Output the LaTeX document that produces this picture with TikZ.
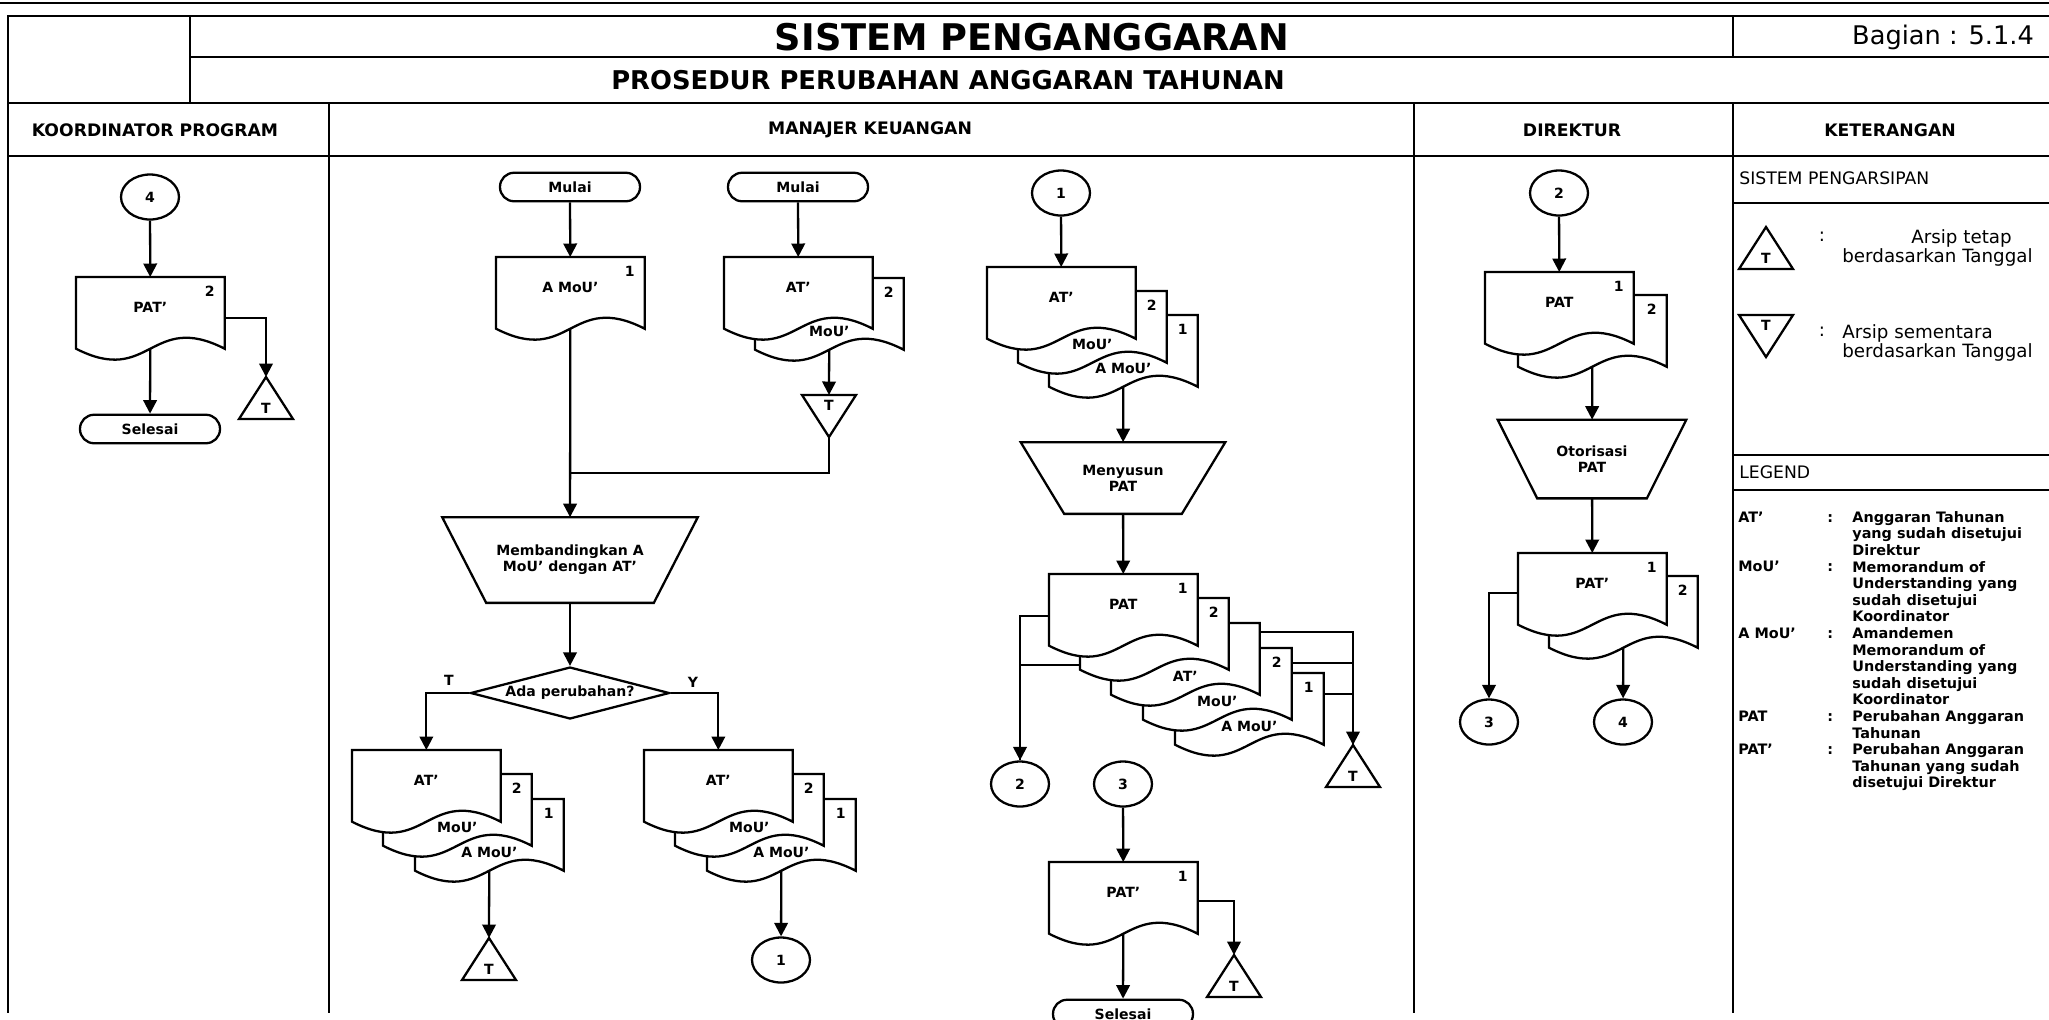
\documentclass[tikz,border=0pt]{standalone}
\usepackage{fontspec}
\setmainfont{DejaVu Sans}
\usetikzlibrary{arrows.meta,shapes.geometric,calc}

\tikzset{
  garis/.style={line width=1.3pt},
  panah/.style={garis, -{Triangle[length=2.7mm,width=2.7mm]}},
  teks/.style={font=\bfseries\fontsize{8}{9}\selectfont, inner sep=0pt, align=center},
  terminal/.style={teks, draw, garis, rounded corners=2.8mm, minimum width=2.8cm, minimum height=0.57cm},
  konektor/.style={teks, draw, garis, ellipse, minimum width=1.16cm, minimum height=0.9cm},
  keputusan/.style={teks, draw, garis, diamond, aspect=3.8, minimum width=3.98cm, minimum height=1.04cm},
  dokbox/.style={inner sep=0pt, minimum width=2.96cm, minimum height=1.42cm, anchor=north west},
  bingkai/.style={line width=1pt},
  sekat/.style={line width=0.8pt},
  kepala/.style={font=\bfseries\fontsize{9.8}{11}\selectfont, inner sep=0pt},
  ket/.style={font=\fontsize{10.4}{10.8}\selectfont, inner sep=0pt, align=left},
  leg/.style={font=\bfseries\fontsize{8.2}{9.45}\selectfont, inner sep=0pt},
}

% dokumen: nama, pojok kiri atas, teks, turun teks, nomor
\newcommand{\dok}[5]{%
  \node[dokbox] (#1) at (#2) {};
  \filldraw[garis, fill=white] (#1.north west) -- (#1.north east) -- (#1.south east)
    .. controls ([yshift=0.76cm]#1.south) and ([yshift=-0.76cm]#1.south) .. (#1.south west) -- cycle;
  \node[teks] (#1-l) at ([yshift=-#4]#1.north) {#3};
  \node[teks] (#1-n) at ([xshift=-0.3cm,yshift=-0.28cm]#1.north east) {#5};
}
% proses manual: opsi, nama, posisi, inset, teks
\newcommand{\proses}[5][]{%
  \node[teks, #1] (#2) at (#3) {#5};
  \draw[garis] (#2.north west) -- (#2.north east) -- ([xshift=-#4]#2.south east)
    -- ([xshift=#4]#2.south west) -- cycle;
}
% arsip tetap (puncak di atas)
\newcommand{\arsipT}[2]{%
  \coordinate (#1) at (#2);
  \draw[garis, fill=white] (#1) -- ++(-27,42) -- ++(54,0) -- cycle;
  \node[teks] (#1-t) at ([yshift=-0.62cm]#1) {T};
}
% arsip sementara (puncak di bawah)
\newcommand{\arsipS}[2]{%
  \coordinate (#1) at (#2);
  \draw[garis, fill=white] ([xshift=-0.54cm]#1) -- ++(54,0) -- ++(-27,42) -- cycle;
  \coordinate (#1-b) at ([yshift=-0.84cm]#1);
  \node[teks] (#1-t) at ([yshift=-0.2cm]#1) {T};
}

\begin{document}
\begin{tikzpicture}[x=0.02cm, y=-0.02cm]
\useasboundingbox (0,0) rectangle (2049,1019);

% bingkai
\draw[line width=1.5pt] (0,3) -- (2049,3);
\draw[bingkai] (2049,16) -- (8,16) -- (8,1013);
\draw[bingkai] (190,16) -- (190,103);
\draw[bingkai] (1733,16) -- (1733,57);
\draw[bingkai] (190,57) -- (2049,57);
\draw[bingkai] (8,103) -- (2049,103);
\draw[bingkai] (8,156) -- (2049,156);
\foreach \x in {329,1414,1733} \draw[sekat] (\x,103) -- (\x,1013);
\foreach \y in {203,455,490} \draw[sekat] (1733,\y) -- (2049,\y);

% judul
\node[font=\bfseries\fontsize{20.9}{24}\selectfont, inner sep=0pt] (judul) at (1032,37) {SISTEM PENGANGGARAN};
\node[font=\fontsize{14.6}{16}\selectfont, inner sep=0pt] (bagian) at (1943,37) {Bagian : 5.1.4};
\node[font=\bfseries\fontsize{14.7}{16}\selectfont, inner sep=0pt] (prosedur) at (948,80) {PROSEDUR PERUBAHAN ANGGARAN TAHUNAN};
\node[kepala] (hkoor) at (155,130) {KOORDINATOR PROGRAM};
\node[kepala] (hman) at (870,130) {MANAJER KEUANGAN};
\node[kepala] (hdir) at (1572,130) {DIREKTUR};
\node[kepala] (hket) at (1890,130) {KETERANGAN};

% koordinator program
\node[konektor] (k4) at (150,197) {4};
\dok{kpat}{76,277}{PAT'}{0.6cm}{2}
\arsipT{kt}{266,377}
\node[terminal] (kselesai) at (150,429) {Selesai};
\draw[panah] (k4) -- (kpat);
\draw[panah] (kpat) -- (kselesai);
\draw[panah] ([yshift=-0.82cm]kpat.north east) -| (kt);

% manajer keuangan
\node[terminal] (mulai1) at (570,187) {Mulai};
\node[terminal] (mulai2) at (798,187) {Mulai};
\dok{amou}{496,257}{A MoU'}{0.6cm}{1}
\dok{mat2}{755,278}{MoU'}{1.06cm}{2}
\dok{mat1}{724,257}{AT'}{0.6cm}{}
\arsipS{ms}{829,395}
\coordinate (gabung) at (570,473);
\proses[minimum width=5.1cm, minimum height=1.7cm]{banding}{570,560}{0.88cm}{Membandingkan A\\MoU' dengan AT'}
\node[keputusan] (ada) at (570,693) {Ada perubahan?};
\node[teks] (lblT) at (449,680) {T};
\node[teks] (lblY) at (693,682) {Y};
\dok{kr3}{415,799}{A MoU'}{1.06cm}{1}
\dok{kr2}{383,774}{MoU'}{1.06cm}{2}
\dok{kr1}{352,750}{AT'}{0.6cm}{}
\arsipT{krt}{489,938}
\dok{kn3}{707,799}{A MoU'}{1.06cm}{1}
\dok{kn2}{675,774}{MoU'}{1.06cm}{2}
\dok{kn1}{644,750}{AT'}{0.6cm}{}
\node[konektor] (m1) at (781,960) {1};
\draw[panah] (mulai1) -- (amou);
\draw[panah] (mulai2) -- (mat1);
\draw[panah] (mat2) -- (ms);
\draw[garis] (ms-b) |- (gabung);
\draw[panah] (amou) -- (banding);
\draw[panah] (banding) -- (ada);
\draw[panah] (ada.west) -| (kr1);
\draw[panah] (ada.east) -| (kn1);
\draw[panah] (kr3) -- (krt);
\draw[panah] (kn3) -- (m1);

\node[konektor] (c1) at (1061,193) {1};
\dok{ms3}{1049,315}{A MoU'}{1.06cm}{1}
\dok{ms2}{1018,291}{MoU'}{1.06cm}{2}
\dok{ms1}{987,267}{AT'}{0.6cm}{}
\proses[minimum width=4.08cm, minimum height=1.42cm]{susun}{1123,478}{0.87cm}{Menyusun\\PAT}
\dok{p5}{1175,673}{A MoU'}{1.06cm}{1}
\dok{p4}{1143,648}{MoU'}{1.06cm}{2}
\dok{p3}{1111,623}{AT'}{1.06cm}{}
\dok{p2}{1080,598}{}{1.06cm}{2}
\dok{p1}{1049,574}{PAT}{0.6cm}{1}
\node[konektor] (c2m) at (1020,784) {2};
\node[konektor] (c3m) at (1123,784) {3};
\arsipT{pt}{1353,745}
\dok{patm}{1049,862}{PAT'}{0.6cm}{1}
\arsipT{pmt}{1234,955}
\node[terminal] (selm) at (1123,1014) {Selesai};
\draw[panah] (c1) -- (ms1);
\draw[panah] (ms3) -- (susun);
\draw[panah] (susun) -- (p1);
\draw[panah] ([yshift=-0.84cm]p1.north west) -| (c2m);
\draw[garis] ([yshift=-1.34cm]p2.north west) -| (c2m);
\draw[panah] ([yshift=-0.18cm]p3.north east) -| (pt);
\draw[garis] ([yshift=-0.3cm]p4.north east) -| (pt);
\draw[garis] ([yshift=-0.42cm]p5.north east) -| (pt);
\draw[panah] (c3m) -- (patm);
\draw[panah] (patm) -- (selm);
\draw[panah] ([yshift=-0.78cm]patm.north east) -| (pmt);

% direktur
\node[konektor] (c2d) at (1559,193) {2};
\dok{d2}{1518,295}{}{1.06cm}{2}
\dok{d1}{1485,272}{PAT}{0.6cm}{1}
\proses[minimum width=3.76cm, minimum height=1.56cm]{otor}{1592,459}{0.79cm}{Otorisasi\\PAT}
\dok{dp2}{1549,576}{}{1.06cm}{2}
\dok{dp1}{1518,553}{PAT'}{0.6cm}{1}
\node[konektor] (c3d) at (1489,722) {3};
\node[konektor] (c4d) at (1623,722) {4};
\draw[panah] (c2d) -- (d1);
\draw[panah] (d2) -- (otor);
\draw[panah] (otor) -- (dp1);
\draw[panah] (dp2) -- (c4d);
\draw[panah] ([yshift=-0.8cm]dp1.north west) -| (c3d);

% keterangan
\node[font=\fontsize{9.8}{11}\selectfont, inner sep=0pt, anchor=west] (arsip) at (1739,178) {SISTEM PENGARSIPAN};
\arsipT{lgt}{1766,227}
\node[ket] (lgtk) at (1822,237) {:};
\node[ket, anchor=north west] (lgtx) at (1842,229) {\hspace*{1.38cm}Arsip tetap\\berdasarkan Tanggal};
\arsipS{lgs}{1766,315}
\node[ket] (lgsk) at (1822,332) {:};
\node[ket, anchor=north west] (lgsx) at (1842,324) {Arsip sementara\\berdasarkan Tanggal};
\node[font=\fontsize{9.8}{11}\selectfont, inner sep=0pt, anchor=west] (legend) at (1739,472) {LEGEND};
\foreach \isti/\baris/\arti [count=\i] in {AT'/0/{Anggaran Tahunan\\yang sudah disetujui\\Direktur},
    MoU'/3/{Memorandum of\\Understanding yang\\sudah disetujui\\Koordinator},
    A MoU'/7/{Amandemen\\Memorandum of\\Understanding yang\\sudah disetujui\\Koordinator},
    PAT/12/{Perubahan Anggaran\\Tahunan},
    PAT'/14/{Perubahan Anggaran\\Tahunan yang sudah\\disetujui Direktur}}
{
  \node[leg, anchor=base west] (istilah\i) at (1738,522+16.6*\baris) {\isti};
  \node[leg, anchor=base west] (titik\i) at (1827,522+16.6*\baris) {:};
  \node[leg, anchor=north west, align=left] (arti\i) at (1852,511+16.6*\baris) {\arti};
}
\end{tikzpicture}
\end{document}
